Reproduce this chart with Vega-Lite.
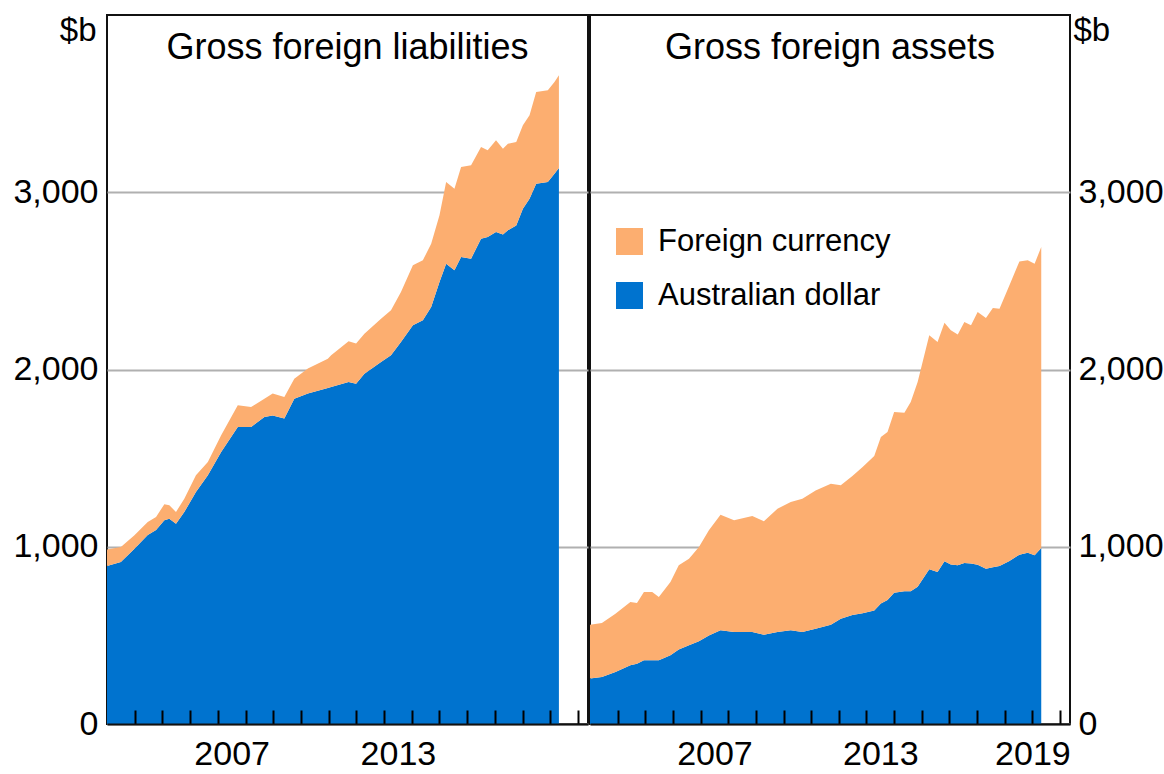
{
  "$schema": "https://vega.github.io/schema/vega-lite/v6.json",
  "padding": {"left": 11, "top": 13, "right": 0, "bottom": 0},
  "background": "white",
  "spacing": 0,
  "config": {
    "view": {"stroke": "#111", "strokeWidth": 2},
    "font": "Liberation Sans",
    "axis": {"labelFont": "Liberation Sans", "titleFont": "Liberation Sans", "labelColor": "#000", "titleColor": "#000"}
  },
  "datasets": {
    "liab": [
      {"year": 2003.0, "series": "Australian dollar", "value": 891}, {"year": 2003.0, "series": "Foreign currency", "value": 94},
      {"year": 2003.5, "series": "Australian dollar", "value": 914}, {"year": 2003.5, "series": "Foreign currency", "value": 84},
      {"year": 2003.99, "series": "Australian dollar", "value": 989}, {"year": 2003.99, "series": "Foreign currency", "value": 76},
      {"year": 2004.47, "series": "Australian dollar", "value": 1066}, {"year": 2004.47, "series": "Foreign currency", "value": 74},
      {"year": 2004.77, "series": "Australian dollar", "value": 1094}, {"year": 2004.77, "series": "Foreign currency", "value": 74},
      {"year": 2005.07, "series": "Australian dollar", "value": 1149}, {"year": 2005.07, "series": "Foreign currency", "value": 91},
      {"year": 2005.25, "series": "Australian dollar", "value": 1158}, {"year": 2005.25, "series": "Foreign currency", "value": 76},
      {"year": 2005.49, "series": "Australian dollar", "value": 1130}, {"year": 2005.49, "series": "Foreign currency", "value": 66},
      {"year": 2005.79, "series": "Australian dollar", "value": 1196}, {"year": 2005.79, "series": "Foreign currency", "value": 75},
      {"year": 2006.21, "series": "Australian dollar", "value": 1309}, {"year": 2006.21, "series": "Foreign currency", "value": 94},
      {"year": 2006.64, "series": "Australian dollar", "value": 1403}, {"year": 2006.64, "series": "Foreign currency", "value": 75},
      {"year": 2007.12, "series": "Australian dollar", "value": 1535}, {"year": 2007.12, "series": "Foreign currency", "value": 94},
      {"year": 2007.72, "series": "Australian dollar", "value": 1676}, {"year": 2007.72, "series": "Foreign currency", "value": 122},
      {"year": 2008.2, "series": "Australian dollar", "value": 1676}, {"year": 2008.2, "series": "Foreign currency", "value": 112},
      {"year": 2008.68, "series": "Australian dollar", "value": 1732}, {"year": 2008.68, "series": "Foreign currency", "value": 103},
      {"year": 2008.98, "series": "Australian dollar", "value": 1741}, {"year": 2008.98, "series": "Foreign currency", "value": 123},
      {"year": 2009.4, "series": "Australian dollar", "value": 1723}, {"year": 2009.4, "series": "Foreign currency", "value": 122},
      {"year": 2009.76, "series": "Australian dollar", "value": 1835}, {"year": 2009.76, "series": "Foreign currency", "value": 113},
      {"year": 2010.25, "series": "Australian dollar", "value": 1864}, {"year": 2010.25, "series": "Foreign currency", "value": 141},
      {"year": 2010.97, "series": "Australian dollar", "value": 1895}, {"year": 2010.97, "series": "Foreign currency", "value": 165},
      {"year": 2011.09, "series": "Australian dollar", "value": 1901}, {"year": 2011.09, "series": "Foreign currency", "value": 179},
      {"year": 2011.72, "series": "Australian dollar", "value": 1930}, {"year": 2011.72, "series": "Foreign currency", "value": 230},
      {"year": 2011.99, "series": "Australian dollar", "value": 1920}, {"year": 2011.99, "series": "Foreign currency", "value": 226},
      {"year": 2012.29, "series": "Australian dollar", "value": 1976}, {"year": 2012.29, "series": "Foreign currency", "value": 226},
      {"year": 2012.89, "series": "Australian dollar", "value": 2042}, {"year": 2012.89, "series": "Foreign currency", "value": 245},
      {"year": 2013.25, "series": "Australian dollar", "value": 2080}, {"year": 2013.25, "series": "Foreign currency", "value": 254},
      {"year": 2013.61, "series": "Australian dollar", "value": 2155}, {"year": 2013.61, "series": "Foreign currency", "value": 282},
      {"year": 2014.04, "series": "Australian dollar", "value": 2249}, {"year": 2014.04, "series": "Foreign currency", "value": 339},
      {"year": 2014.4, "series": "Australian dollar", "value": 2278}, {"year": 2014.4, "series": "Foreign currency", "value": 338},
      {"year": 2014.7, "series": "Australian dollar", "value": 2353}, {"year": 2014.7, "series": "Foreign currency", "value": 357},
      {"year": 2015.0, "series": "Australian dollar", "value": 2494}, {"year": 2015.0, "series": "Foreign currency", "value": 376},
      {"year": 2015.24, "series": "Australian dollar", "value": 2597}, {"year": 2015.24, "series": "Foreign currency", "value": 461},
      {"year": 2015.54, "series": "Australian dollar", "value": 2560}, {"year": 2015.54, "series": "Foreign currency", "value": 460},
      {"year": 2015.78, "series": "Australian dollar", "value": 2635}, {"year": 2015.78, "series": "Foreign currency", "value": 507},
      {"year": 2016.14, "series": "Australian dollar", "value": 2625}, {"year": 2016.14, "series": "Foreign currency", "value": 527},
      {"year": 2016.5, "series": "Australian dollar", "value": 2738}, {"year": 2016.5, "series": "Foreign currency", "value": 517},
      {"year": 2016.74, "series": "Australian dollar", "value": 2748}, {"year": 2016.74, "series": "Foreign currency", "value": 489},
      {"year": 2017.04, "series": "Australian dollar", "value": 2776}, {"year": 2017.04, "series": "Foreign currency", "value": 517},
      {"year": 2017.29, "series": "Australian dollar", "value": 2761}, {"year": 2017.29, "series": "Foreign currency", "value": 485},
      {"year": 2017.47, "series": "Australian dollar", "value": 2785}, {"year": 2017.47, "series": "Foreign currency", "value": 489},
      {"year": 2017.77, "series": "Australian dollar", "value": 2813}, {"year": 2017.77, "series": "Foreign currency", "value": 471},
      {"year": 2018.01, "series": "Australian dollar", "value": 2907}, {"year": 2018.01, "series": "Foreign currency", "value": 471},
      {"year": 2018.25, "series": "Australian dollar", "value": 2964}, {"year": 2018.25, "series": "Foreign currency", "value": 470},
      {"year": 2018.49, "series": "Australian dollar", "value": 3048}, {"year": 2018.49, "series": "Foreign currency", "value": 518},
      {"year": 2018.91, "series": "Australian dollar", "value": 3058}, {"year": 2018.91, "series": "Foreign currency", "value": 517},
      {"year": 2019.15, "series": "Australian dollar", "value": 3105}, {"year": 2019.15, "series": "Foreign currency", "value": 517},
      {"year": 2019.31, "series": "Australian dollar", "value": 3137}, {"year": 2019.31, "series": "Foreign currency", "value": 523}
    ],
    "assets": [
      {"year": 2003.0, "series": "Australian dollar", "value": 256}, {"year": 2003.0, "series": "Foreign currency", "value": 304},
      {"year": 2003.43, "series": "Australian dollar", "value": 265}, {"year": 2003.43, "series": "Foreign currency", "value": 305},
      {"year": 2003.92, "series": "Australian dollar", "value": 293}, {"year": 2003.92, "series": "Foreign currency", "value": 329},
      {"year": 2004.46, "series": "Australian dollar", "value": 331}, {"year": 2004.46, "series": "Foreign currency", "value": 357},
      {"year": 2004.7, "series": "Australian dollar", "value": 340}, {"year": 2004.7, "series": "Foreign currency", "value": 343},
      {"year": 2004.95, "series": "Australian dollar", "value": 359}, {"year": 2004.95, "series": "Foreign currency", "value": 386},
      {"year": 2005.25, "series": "Australian dollar", "value": 359}, {"year": 2005.25, "series": "Foreign currency", "value": 386},
      {"year": 2005.49, "series": "Australian dollar", "value": 359}, {"year": 2005.49, "series": "Foreign currency", "value": 357},
      {"year": 2005.91, "series": "Australian dollar", "value": 388}, {"year": 2005.91, "series": "Foreign currency", "value": 413},
      {"year": 2006.21, "series": "Australian dollar", "value": 421}, {"year": 2006.21, "series": "Foreign currency", "value": 474},
      {"year": 2006.58, "series": "Australian dollar", "value": 444}, {"year": 2006.58, "series": "Foreign currency", "value": 489},
      {"year": 2006.94, "series": "Australian dollar", "value": 467}, {"year": 2006.94, "series": "Foreign currency", "value": 532},
      {"year": 2007.3, "series": "Australian dollar", "value": 500}, {"year": 2007.3, "series": "Foreign currency", "value": 593},
      {"year": 2007.72, "series": "Australian dollar", "value": 529}, {"year": 2007.72, "series": "Foreign currency", "value": 652},
      {"year": 2008.21, "series": "Australian dollar", "value": 519}, {"year": 2008.21, "series": "Foreign currency", "value": 630},
      {"year": 2008.87, "series": "Australian dollar", "value": 519}, {"year": 2008.87, "series": "Foreign currency", "value": 654},
      {"year": 2009.29, "series": "Australian dollar", "value": 504}, {"year": 2009.29, "series": "Foreign currency", "value": 640},
      {"year": 2009.78, "series": "Australian dollar", "value": 519}, {"year": 2009.78, "series": "Foreign currency", "value": 696},
      {"year": 2010.26, "series": "Australian dollar", "value": 529}, {"year": 2010.26, "series": "Foreign currency", "value": 723},
      {"year": 2010.68, "series": "Australian dollar", "value": 519}, {"year": 2010.68, "series": "Foreign currency", "value": 752},
      {"year": 2011.16, "series": "Australian dollar", "value": 538}, {"year": 2011.16, "series": "Foreign currency", "value": 780},
      {"year": 2011.71, "series": "Australian dollar", "value": 560}, {"year": 2011.71, "series": "Foreign currency", "value": 796},
      {"year": 2012.07, "series": "Australian dollar", "value": 594}, {"year": 2012.07, "series": "Foreign currency", "value": 753},
      {"year": 2012.49, "series": "Australian dollar", "value": 615}, {"year": 2012.49, "series": "Foreign currency", "value": 784},
      {"year": 2012.86, "series": "Australian dollar", "value": 625}, {"year": 2012.86, "series": "Foreign currency", "value": 825},
      {"year": 2013.28, "series": "Australian dollar", "value": 641}, {"year": 2013.28, "series": "Foreign currency", "value": 871},
      {"year": 2013.52, "series": "Australian dollar", "value": 680}, {"year": 2013.52, "series": "Foreign currency", "value": 939},
      {"year": 2013.76, "series": "Australian dollar", "value": 700}, {"year": 2013.76, "series": "Foreign currency", "value": 947},
      {"year": 2014.0, "series": "Australian dollar", "value": 740}, {"year": 2014.0, "series": "Foreign currency", "value": 1020},
      {"year": 2014.37, "series": "Australian dollar", "value": 749}, {"year": 2014.37, "series": "Foreign currency", "value": 1007},
      {"year": 2014.6, "series": "Australian dollar", "value": 749}, {"year": 2014.6, "series": "Foreign currency", "value": 1068},
      {"year": 2014.85, "series": "Australian dollar", "value": 775}, {"year": 2014.85, "series": "Foreign currency", "value": 1154},
      {"year": 2015.27, "series": "Australian dollar", "value": 873}, {"year": 2015.27, "series": "Foreign currency", "value": 1320},
      {"year": 2015.57, "series": "Australian dollar", "value": 858}, {"year": 2015.57, "series": "Foreign currency", "value": 1297},
      {"year": 2015.82, "series": "Australian dollar", "value": 918}, {"year": 2015.82, "series": "Foreign currency", "value": 1346},
      {"year": 2016.05, "series": "Australian dollar", "value": 900}, {"year": 2016.05, "series": "Foreign currency", "value": 1321},
      {"year": 2016.3, "series": "Australian dollar", "value": 895}, {"year": 2016.3, "series": "Foreign currency", "value": 1302},
      {"year": 2016.54, "series": "Australian dollar", "value": 908}, {"year": 2016.54, "series": "Foreign currency", "value": 1360},
      {"year": 2016.78, "series": "Australian dollar", "value": 905}, {"year": 2016.78, "series": "Foreign currency", "value": 1344},
      {"year": 2017.02, "series": "Australian dollar", "value": 898}, {"year": 2017.02, "series": "Foreign currency", "value": 1426},
      {"year": 2017.32, "series": "Australian dollar", "value": 876}, {"year": 2017.32, "series": "Foreign currency", "value": 1414},
      {"year": 2017.57, "series": "Australian dollar", "value": 885}, {"year": 2017.57, "series": "Foreign currency", "value": 1462},
      {"year": 2017.81, "series": "Australian dollar", "value": 891}, {"year": 2017.81, "series": "Foreign currency", "value": 1452},
      {"year": 2018.17, "series": "Australian dollar", "value": 920}, {"year": 2018.17, "series": "Foreign currency", "value": 1555},
      {"year": 2018.53, "series": "Australian dollar", "value": 955}, {"year": 2018.53, "series": "Foreign currency", "value": 1655},
      {"year": 2018.83, "series": "Australian dollar", "value": 966}, {"year": 2018.83, "series": "Foreign currency", "value": 1650},
      {"year": 2019.08, "series": "Australian dollar", "value": 952}, {"year": 2019.08, "series": "Foreign currency", "value": 1645},
      {"year": 2019.32, "series": "Australian dollar", "value": 993}, {"year": 2019.32, "series": "Foreign currency", "value": 1698}
    ]
  },
  "resolve": {"legend": {"color": "independent"}},
  "hconcat": [
    {
      "width": 481,
      "height": 709,
      "resolve": {"axis": {"x": "independent", "y": "independent"}},
      "layer": [
        {
          "data": {"name": "liab"},
          "mark": {"type": "area", "interpolate": "linear"},
          "encoding": {
            "x": {
              "field": "year", "type": "quantitative",
              "scale": {"domain": [2003, 2020.36], "nice": false, "zero": false},
              "axis": {
                "title": null, "values": [2004, 2005, 2006, 2007, 2008, 2009, 2010, 2011, 2012, 2013, 2014, 2015, 2016, 2017, 2018, 2019, 2020],
                "labelExpr": "(datum.value == 2007 || datum.value == 2013) ? '' + datum.value : ''",
                "labelOffset": {"condition": {"test": "datum.value >= 2019", "value": 0}, "value": 13.85},
                "labelFontSize": 34, "labelPadding": 27, "labelOverlap": false, "labelFlush": false, "labelBound": false,
                "tickSize": -14, "tickWidth": 2, "tickColor": "#000", "domain": true, "domainColor": "#111", "domainWidth": 2, "grid": false, "zindex": 1
              }
            },
            "y": {
              "field": "value", "type": "quantitative", "stack": "zero",
              "scale": {"domain": [0, 4000], "nice": false},
              "axis": {
                "values": [0, 1000, 2000, 3000], "format": ",.0f", "orient": "left",
                "labelFontSize": 34, "labelPadding": 9, "ticks": false, "domain": false,
                "grid": true, "gridColor": "#b0b0b0", "gridWidth": 2,
                "title": "$b", "titleAngle": 0, "titleAlign": "right", "titleBaseline": "alphabetic", "titleX": -11, "titleY": 25, "titleFontSize": 33, "titleFontWeight": "normal"
              }
            },
            "color": {
              "field": "series", "type": "nominal",
              "scale": {"domain": ["Foreign currency", "Australian dollar"], "range": ["#FCAE70", "#0073CF"]},
              "legend": null
            },
            "order": {"field": "series", "sort": "ascending"}
          }
        },
        {
          "data": {"values": [{"panel": "Gross foreign liabilities"}]},
          "mark": {"type": "text", "fontSize": 36, "font": "Liberation Sans", "color": "#000", "align": "center", "baseline": "alphabetic"},
          "encoding": {
            "x": {"datum": 2011.68, "type": "quantitative", "axis": null},
            "y": {"datum": 3752, "type": "quantitative", "axis": null},
            "text": {"field": "panel"}
          }
        }
      ]
    },
    {
      "width": 480,
      "height": 709,
      "resolve": {"axis": {"x": "independent", "y": "independent"}},
      "layer": [
        {
          "data": {"name": "assets"},
          "mark": {"type": "area", "interpolate": "linear"},
          "encoding": {
            "x": {
              "field": "year", "type": "quantitative",
              "scale": {"domain": [2003, 2020.36], "nice": false, "zero": false},
              "axis": {
                "title": null, "values": [2004, 2005, 2006, 2007, 2008, 2009, 2010, 2011, 2012, 2013, 2014, 2015, 2016, 2017, 2018, 2019, 2020],
                "labelExpr": "(datum.value == 2007 || datum.value == 2013 || datum.value == 2019) ? '' + datum.value : ''",
                "labelOffset": {"condition": {"test": "datum.value >= 2019", "value": 0}, "value": 13.85},
                "labelFontSize": 34, "labelPadding": 27, "labelOverlap": false, "labelFlush": false, "labelBound": false,
                "tickSize": -14, "tickWidth": 2, "tickColor": "#000", "domain": true, "domainColor": "#111", "domainWidth": 2, "grid": false, "zindex": 1
              }
            },
            "y": {
              "field": "value", "type": "quantitative", "stack": "zero",
              "scale": {"domain": [0, 4000], "nice": false},
              "axis": {
                "values": [0, 1000, 2000, 3000], "format": ",.0f", "orient": "right",
                "labelFontSize": 34, "labelPadding": 8, "ticks": false, "domain": false,
                "grid": true, "gridColor": "#b0b0b0", "gridWidth": 2,
                "title": "$b", "titleAngle": 0, "titleAlign": "left", "titleBaseline": "alphabetic", "titleX": 3, "titleY": 25, "titleFontSize": 33, "titleFontWeight": "normal"
              }
            },
            "color": {
              "field": "series", "type": "nominal",
              "scale": {"domain": ["Foreign currency", "Australian dollar"], "range": ["#FCAE70", "#0073CF"]},
              "legend": {
                "orient": "none", "legendX": 24, "legendY": 211, "title": null,
                "symbolType": "square", "symbolSize": 729, "symbolStrokeWidth": 0, "symbolOpacity": 1,
                "labelFontSize": 31, "labelFont": "Liberation Sans", "labelColor": "#000", "labelOffset": 13, "labelLimit": 500, "rowPadding": 22, "padding": 0
              }
            },
            "order": {"field": "series", "sort": "ascending"}
          }
        },
        {
          "data": {"values": [{"panel": "Gross foreign assets"}]},
          "mark": {"type": "text", "fontSize": 36, "font": "Liberation Sans", "color": "#000", "align": "center", "baseline": "alphabetic"},
          "encoding": {
            "x": {"datum": 2011.68, "type": "quantitative", "axis": null},
            "y": {"datum": 3752, "type": "quantitative", "axis": null},
            "text": {"field": "panel"}
          }
        }
      ]
    }
  ]
}
